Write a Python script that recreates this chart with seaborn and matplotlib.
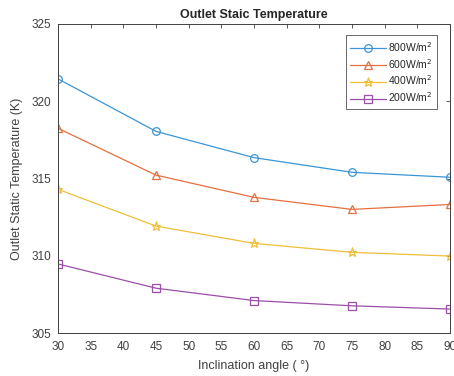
import matplotlib
matplotlib.use("Agg")
import matplotlib.pyplot as plt
import seaborn as sns
import pandas as pd

angles = [30, 45, 60, 75, 90]
t800 = [321.45, 318.05, 316.35, 315.40, 315.08]
t600 = [318.25, 315.22, 313.78, 313.00, 313.32]
t400 = [314.30, 311.92, 310.80, 310.22, 309.98]
t200 = [309.47, 307.90, 307.10, 306.76, 306.55]
labels = ["800W/m$^2$", "600W/m$^2$", "400W/m$^2$", "200W/m$^2$"]
xticks = list(range(30, 91, 5))
yticks = [305, 310, 315, 320, 325]

sns.set_style("white")
plt.rcParams['font.family'] = ['Liberation Sans', 'DejaVu Sans']

rows = []
for lab, vals in zip(labels, [t800, t600, t400, t200]):
    for a, v in zip(angles, vals):
        rows.append({"angle": a, "temp": v, "series": lab})
df = pd.DataFrame(rows)

colors = ['#3a95d6', '#e4703f', '#efbf3a', '#9b4fa8']
markers = ['o', '^', '*', 's']

fig = plt.figure(figsize=(4.54, 3.76), dpi=100)
ax = fig.add_axes([58/454, 43/376, 392/454, 309/376])

for lab, c, m in zip(labels, colors, markers):
    sub = df[df.series == lab]
    sns.lineplot(data=sub, x="angle", y="temp", ax=ax, color=c, marker=m,
                 markersize=5.5 if m != '*' else 6.5, markerfacecolor='none',
                 markeredgecolor=c, markeredgewidth=0.9, linewidth=0.9,
                 label=lab)

ax.set_xlim(30, 90)
ax.set_ylim(305, 325)
ax.set_xticks(xticks)
ax.set_yticks(yticks)
ax.tick_params(direction='in', length=3, width=0.6, labelsize=8.5,
               colors='#404040', top=True, right=True)
ax.tick_params(axis='x', pad=6)
ax.tick_params(axis='y', pad=5)
for s in ax.spines.values():
    s.set_color('#404040')
    s.set_linewidth(0.7)
ax.set_xlabel("Inclination angle ( °)", fontsize=9, color='#404040', labelpad=5)
ax.set_ylabel("Outlet Static Temperature (K)", fontsize=9, color='#404040', labelpad=6)
ax.set_title("Outlet Staic Temperature", fontsize=9, fontweight='bold', pad=4)

leg = ax.legend(loc='upper right', fontsize=7.5, frameon=True, fancybox=False,
                handlelength=3.4, borderpad=0.45, labelspacing=0.3,
                handletextpad=0.2, borderaxespad=0,
                bbox_to_anchor=(0.967, 0.964))
leg.get_frame().set_edgecolor('#404040')
leg.get_frame().set_linewidth(0.7)
for t in leg.get_texts():
    t.set_color('#262626')

fig.savefig("out.png", dpi=100)
